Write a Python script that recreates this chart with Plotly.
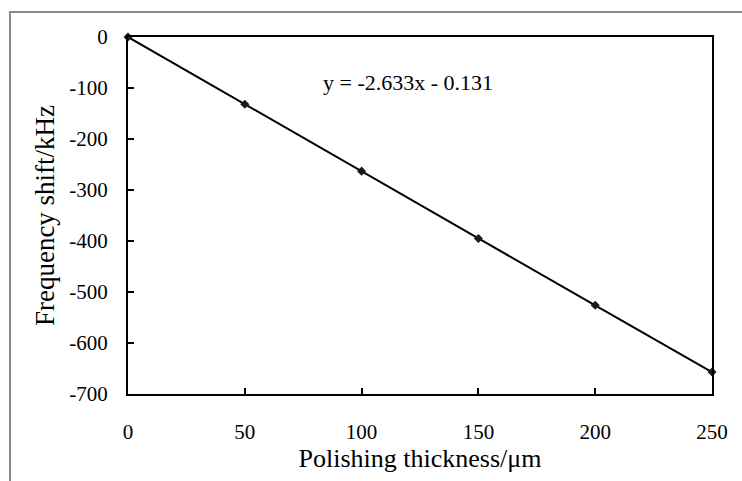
import plotly.graph_objects as go

# Data
thickness = [0, 50, 100, 150, 200, 250]
freq_shift = [0, -132, -263, -395, -526, -657]
x_ticks = [0, 50, 100, 150, 200, 250]
x_ticktext = ["0", "50", "100", "150", "200", "250"]
y_ticks = [0, -100, -200, -300, -400, -500, -600, -700]
y_ticktext = ["0", "-100", "-200", "-300", "-400", "-500", "-600", "-700"]
equation = "y = -2.633x - 0.131"
x_title = "Polishing thickness/μm"
y_title = "Frequency shift/kHz"

W, H = 742, 481
L, R, T, B = 128, 30, 37, 87
pw, ph = W - L - R, H - T - B

FONT = "Liberation Serif, Times New Roman, serif"

fig = go.Figure()
fig.add_trace(go.Scatter(
    x=thickness, y=freq_shift, mode="lines+markers",
    line=dict(color="black", width=2),
    marker=dict(symbol="diamond", size=7, color="#1a1a1a"),
    showlegend=False, hoverinfo="skip", cliponaxis=False,
))

fig.add_annotation(x=120, y=-90, xref="x", yref="y", text=equation,
                   showarrow=False, font=dict(family=FONT, size=22, color="black"))

# outer chart-area frame (gray)
def px_to_paper_x(p):
    return (p - L) / pw

def px_to_paper_y(p):
    return (H - B - p) / ph

fig.add_shape(type="rect", xref="paper", yref="paper",
              x0=px_to_paper_x(10), x1=px_to_paper_x(W + 10),
              y0=px_to_paper_y(H + 10), y1=px_to_paper_y(12),
              line=dict(color="#8c8c8c", width=2), layer="below")

fig.update_layout(
    width=W, height=H,
    margin=dict(l=L, r=R, t=T, b=B, autoexpand=False),
    paper_bgcolor="white", plot_bgcolor="white",
    font=dict(family=FONT, size=21, color="black"),
    xaxis=dict(
        range=[0, 250], tickvals=x_ticks, ticktext=x_ticktext,
        ticks="inside", ticklen=6, tickwidth=1.5,
        tickcolor="black", showline=True, linecolor="black", linewidth=2, mirror=True,
        showgrid=False, zeroline=False, ticklabelstandoff=18,
        title=dict(text=x_title, font=dict(size=26), standoff=6),
        automargin=False,
    ),
    yaxis=dict(
        range=[-700, 0], tickvals=y_ticks, ticktext=y_ticktext,
        ticks="inside", ticklen=6, tickwidth=1.5,
        tickcolor="black", showline=True, linecolor="black", linewidth=2, mirror=True,
        showgrid=False, zeroline=False, ticklabelstandoff=14,
        title=dict(text=y_title, font=dict(size=27), standoff=7),
        automargin=False,
    ),
)

fig.write_html("out.html")
